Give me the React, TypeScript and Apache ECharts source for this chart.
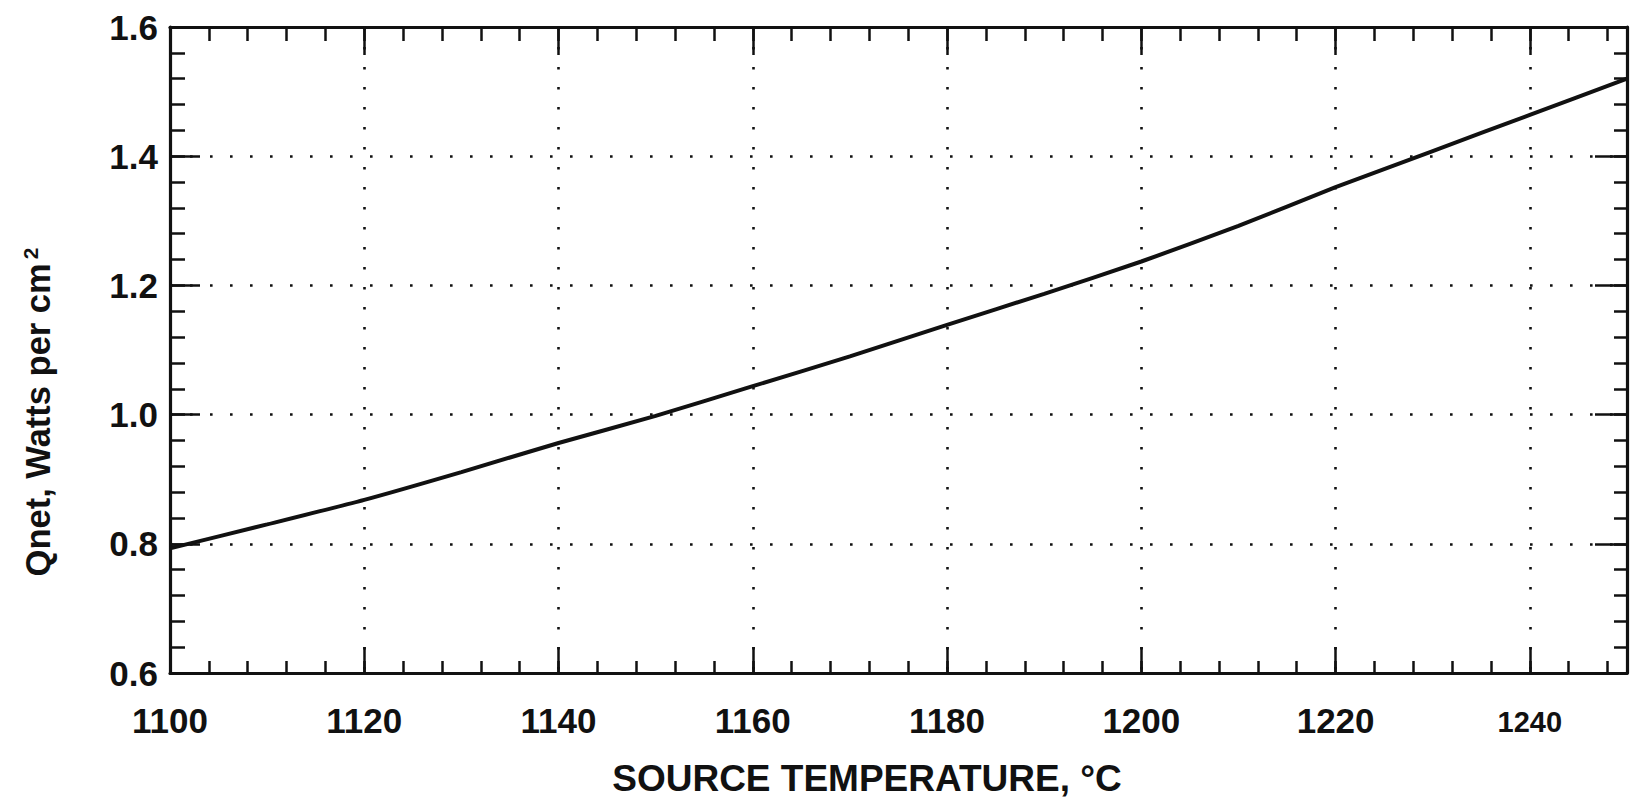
import React, { useEffect, useRef } from "react";
import * as echarts from "echarts";

const temperatures = [1100, 1110, 1120, 1130, 1140, 1150, 1160, 1170, 1180, 1190, 1200, 1210, 1220, 1230, 1240, 1250];
const qnet = [0.793, 0.83, 0.868, 0.911, 0.956, 0.998, 1.044, 1.09, 1.139, 1.187, 1.237, 1.292, 1.352, 1.408, 1.464, 1.52];
const xLabelValues = [1100, 1120, 1140, 1160, 1180, 1200, 1220, 1240];
const yLabelValues = [0.6, 0.8, 1.0, 1.2, 1.4, 1.6];

const FONT = "'Liberation Sans', Arial, Helvetica, sans-serif";
const INK = "#111";

export default function App() {
  const ref = useRef<HTMLDivElement>(null);

  useEffect(() => {
    if (!ref.current) return;
    const chart = echarts.init(ref.current, null, { renderer: "svg" });

    const xBase = { type: "value", min: 1100, max: 1250, gridIndex: 0 };
    const yBase = { type: "value", min: 0.6, max: 1.6, gridIndex: 0 };
    const dotted = { show: true, lineStyle: { color: INK, width: 2.6, type: [2.6, 17.4] } };

    const xAxes = [
      {
        ...xBase, position: "bottom", interval: 20,
        axisLine: { show: true, lineStyle: { color: INK, width: 3.2 } },
        axisTick: { show: true, inside: true, length: 26, lineStyle: { color: INK, width: 2.5 } },
        axisLabel: {
          show: true, margin: 30, color: INK, fontFamily: FONT, fontWeight: "bold", fontSize: 35,
          formatter: (v: number) => {
            if (!xLabelValues.includes(v)) return "";
            return v === 1240 ? "{s|" + v + "}" : String(v);
          },
          rich: { s: { fontFamily: FONT, fontWeight: "bold", fontSize: 29, color: INK, padding: [4, 0, 0, 0] } },
        },
        splitLine: dotted,
      },
      {
        ...xBase, position: "bottom", interval: 4,
        axisLine: { show: false },
        axisTick: { show: true, inside: true, length: 12, lineStyle: { color: INK, width: 2.5 } },
        axisLabel: { show: false }, splitLine: { show: false },
      },
      {
        ...xBase, position: "top", interval: 20,
        axisLine: { show: true, lineStyle: { color: INK, width: 3.2 } },
        axisTick: { show: true, inside: true, length: 28, lineStyle: { color: INK, width: 2.5 } },
        axisLabel: { show: false }, splitLine: { show: false },
      },
      {
        ...xBase, position: "top", interval: 4,
        axisLine: { show: false },
        axisTick: { show: true, inside: true, length: 14, lineStyle: { color: INK, width: 2.5 } },
        axisLabel: { show: false }, splitLine: { show: false },
      },
    ];

    const yAxes = [
      {
        ...yBase, position: "left", interval: 0.2,
        axisLine: { show: true, lineStyle: { color: INK, width: 3.2 } },
        axisTick: { show: true, inside: true, length: 30, lineStyle: { color: INK, width: 2.5 } },
        axisLabel: {
          show: true, margin: 12, color: INK, fontFamily: FONT, fontWeight: "bold", fontSize: 35,
          formatter: (v: number) => {
            const r = Math.round(v * 10) / 10;
            return yLabelValues.some((t) => Math.abs(t - r) < 1e-6) ? r.toFixed(1) : "";
          },
        },
        splitLine: dotted,
      },
      {
        ...yBase, position: "left", interval: 0.04,
        axisLine: { show: false },
        axisTick: { show: true, inside: true, length: 15, lineStyle: { color: INK, width: 2.5 } },
        axisLabel: { show: false }, splitLine: { show: false },
      },
      {
        ...yBase, position: "right", interval: 0.2,
        axisLine: { show: true, lineStyle: { color: INK, width: 3.2 } },
        axisTick: { show: true, inside: true, length: 32, lineStyle: { color: INK, width: 2.5 } },
        axisLabel: { show: false }, splitLine: { show: false },
      },
      {
        ...yBase, position: "right", interval: 0.04,
        axisLine: { show: false },
        axisTick: { show: true, inside: true, length: 13, lineStyle: { color: INK, width: 2.5 } },
        axisLabel: { show: false }, splitLine: { show: false },
      },
    ];

    chart.setOption({
      animation: false,
      backgroundColor: "#fff",
      grid: { left: 170, top: 27, width: 1465, height: 646, containLabel: false },
      xAxis: xAxes,
      yAxis: yAxes,
      series: [
        {
          type: "line",
          xAxisIndex: 0,
          yAxisIndex: 0,
          data: temperatures.map((t, i) => [t, qnet[i]]),
          showSymbol: false,
          smooth: 0.2,
          lineStyle: { color: INK, width: 4 },
          z: 5,
        },
      ],
      graphic: [
        {
          type: "text",
          x: 867,
          y: 778,
          style: {
            text: "SOURCE TEMPERATURE, °C",
            fill: INK,
            fontFamily: FONT,
            fontWeight: "bold",
            fontSize: 37,
            align: "center",
            verticalAlign: "middle",
          },
        },
        {
          type: "text",
          x: 38,
          y: 412,
          rotation: Math.PI / 2,
          style: {
            text: "{a|Qnet, Watts per cm}{s|2}",
            fill: INK,
            align: "center",
            verticalAlign: "middle",
            rich: {
              a: { fontFamily: FONT, fontWeight: "bold", fontSize: 34.5, fill: INK, color: INK },
              s: { fontFamily: FONT, fontWeight: "bold", fontSize: 21, fill: INK, color: INK, verticalAlign: "top", padding: [0, 0, 16, 4] },
            },
          },
        },
      ],
    });

    return () => chart.dispose();
  }, []);

  return (
    <div
      ref={ref}
      style={{ position: "absolute", left: 0, top: 0, width: 1630, height: 802, background: "#fff" }}
    />
  );
}
